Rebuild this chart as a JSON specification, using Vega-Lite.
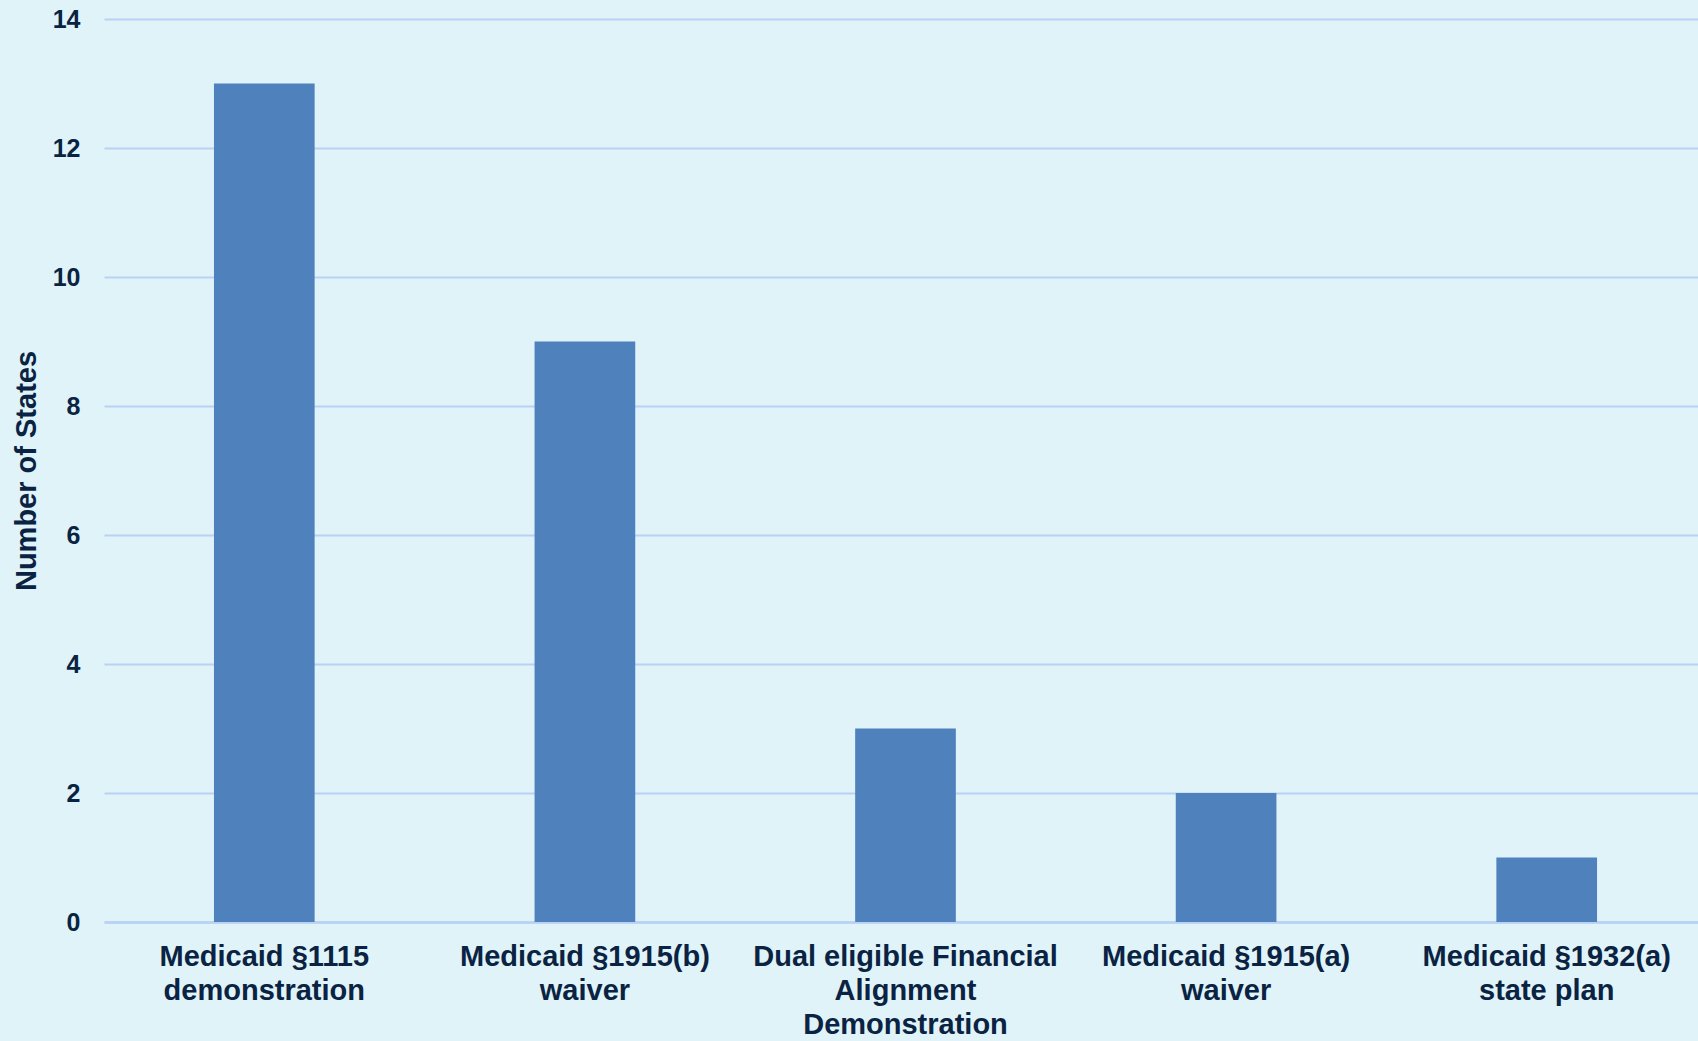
{
  "$schema": "https://vega.github.io/schema/vega-lite/v6.json",
  "autosize": "none",
  "width": 1594,
  "height": 903,
  "padding": {"left": 104, "top": 19, "right": 0, "bottom": 119},
  "background": "#dff3f9",
  "config": {"view": {"stroke": null}},
  "data": {
    "values": [
      {"category": "Medicaid §1115\ndemonstration", "states": 13},
      {"category": "Medicaid §1915(b)\nwaiver", "states": 9},
      {"category": "Dual eligible Financial\nAlignment\nDemonstration", "states": 3},
      {"category": "Medicaid §1915(a)\nwaiver", "states": 2},
      {"category": "Medicaid §1932(a)\nstate plan", "states": 1}
    ]
  },
  "mark": {"type": "bar", "color": "#4f81bd", "width": {"band": 0.314}},
  "encoding": {
    "x": {
      "field": "category",
      "type": "nominal",
      "sort": null,
      "scale": {"paddingInner": 0, "paddingOuter": 0, "range": [0, 1603]},
      "axis": {
        "title": null,
        "labelAngle": 0,
        "labelExpr": "split(datum.value, '\\n')",
        "labelFont": "Liberation Sans",
        "labelFontWeight": "bold",
        "labelFontSize": 29,
        "labelLineHeight": 34,
        "labelColor": "#0b2342",
        "labelPadding": 20,
        "labelLimit": 0,
        "ticks": false,
        "domainColor": "#b9d1f5",
        "domainWidth": 2.5
      }
    },
    "y": {
      "field": "states",
      "type": "quantitative",
      "scale": {"domain": [0, 14], "nice": false},
      "axis": {
        "title": "Number of States",
        "titleFont": "Liberation Sans",
        "titleFontWeight": "bold",
        "titleFontSize": 29,
        "titleColor": "#0b2342",
        "titlePadding": 11,
        "values": [0, 2, 4, 6, 8, 10, 12, 14],
        "labelFont": "Liberation Sans",
        "labelFontWeight": "bold",
        "labelFontSize": 25,
        "labelColor": "#0b2342",
        "labelPadding": 24,
        "ticks": false,
        "domain": false,
        "gridColor": "#b9d1f5",
        "gridWidth": 2,
        "gridOpacity": 1
      }
    }
  }
}
